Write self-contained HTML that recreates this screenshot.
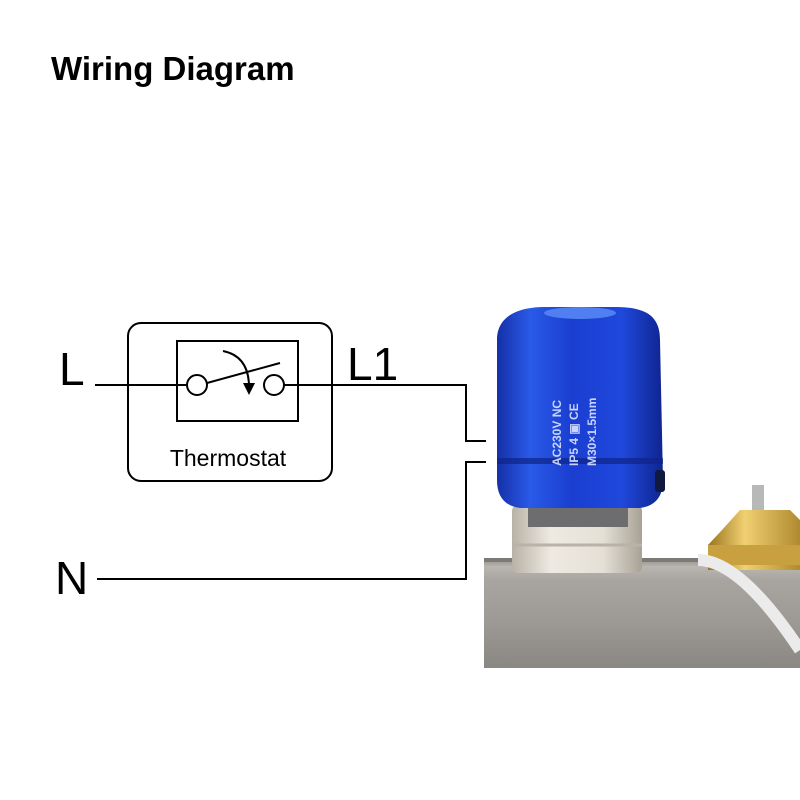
<!DOCTYPE html>
<html><head><meta charset="utf-8"><style>
html,body{margin:0;padding:0;background:#fff;width:800px;height:800px;overflow:hidden}
</style></head><body>
<svg width="800" height="800" viewBox="0 0 800 800" xmlns="http://www.w3.org/2000/svg">
<defs>
<linearGradient id="pipe" x1="0" y1="0" x2="0" y2="1">
<stop offset="0" stop-color="#8d8a86"/><stop offset="0.08" stop-color="#b9b6b2"/><stop offset="0.2" stop-color="#a8a5a1"/><stop offset="0.6" stop-color="#9c9995"/><stop offset="1" stop-color="#8a8783"/></linearGradient>
<linearGradient id="blue" x1="0" y1="0" x2="1" y2="0">
<stop offset="0" stop-color="#1530a8"/><stop offset="0.2" stop-color="#2a5ae8"/><stop offset="0.45" stop-color="#1a3ed0"/><stop offset="0.75" stop-color="#1f48dc"/><stop offset="1" stop-color="#0f2590"/></linearGradient>
<linearGradient id="nut" x1="0" y1="0" x2="1" y2="0">
<stop offset="0" stop-color="#b8b2a6"/><stop offset="0.3" stop-color="#eeeae2"/><stop offset="0.7" stop-color="#e4e0d6"/><stop offset="1" stop-color="#a8a296"/></linearGradient>
<linearGradient id="brass" x1="0" y1="0" x2="1" y2="0">
<stop offset="0" stop-color="#9a7420"/><stop offset="0.4" stop-color="#f0d070"/><stop offset="1" stop-color="#b08a30"/></linearGradient>
</defs>
<text x="51" y="80" font-family="Liberation Sans, sans-serif" font-weight="bold" font-size="33">Wiring Diagram</text>
<g font-family="Liberation Sans, sans-serif" font-size="46">
<text x="59" y="385">L</text><text x="347" y="380">L1</text><text x="55" y="594">N</text></g>
<g stroke="#000" stroke-width="2" fill="none">
<rect x="128" y="323" width="204" height="158" rx="13"/>
<rect x="177" y="341" width="121" height="80"/>
<polyline points="95,385 187,385"/><polyline points="284,385 466,385 466,441 486,441"/>
<polyline points="97,579 466,579 466,462 486,462"/>
<circle cx="197" cy="385" r="10" fill="#fff"/><circle cx="274" cy="385" r="10" fill="#fff"/>
<line x1="207" y1="383" x2="280" y2="363"/>
<path d="M223,351 Q248,356 249,385"/>
</g>
<polygon points="243,383 255,383 249,395" fill="#000"/>
<text x="228" y="466" text-anchor="middle" font-family="Liberation Sans, sans-serif" font-size="23">Thermostat</text>
<!-- pipe -->
<rect x="484" y="558" width="316" height="110" fill="url(#pipe)"/>
<rect x="484" y="558" width="316" height="4" fill="#7d7a76"/>
<!-- brass -->
<rect x="752" y="485" width="12" height="30" fill="#b8b8b8"/>
<path d="M740,510 L790,510 L800,520 L800,570 L708,570 L708,545 L722,530 Z" fill="url(#brass)"/>
<rect x="708" y="545" width="92" height="20" fill="#c9a040"/>
<path d="M698,560 Q740,560 800,650" stroke="#ebebeb" stroke-width="12" fill="none"/>
<!-- nut -->
<rect x="512" y="505" width="130" height="68" rx="6" fill="url(#nut)"/>
<rect x="528" y="505" width="100" height="22" fill="#6d6d70"/>
<line x1="512" y1="545" x2="642" y2="545" stroke="#b8b2a8" stroke-width="3"/>
<!-- actuator -->
<path d="M497,340 C497,315 520,307 545,307 L615,307 C645,307 660,315 660,340 L663,480 Q663,505 640,508 L520,508 Q497,505 497,480 Z" fill="url(#blue)"/>
<ellipse cx="580" cy="313" rx="36" ry="6" fill="#4f7ff0"/>
<rect x="497" y="458" width="166" height="6" fill="#0e2488" opacity="0.7"/>
<rect x="655" y="470" width="10" height="22" rx="3" fill="#101a40"/>
<g font-family="Liberation Sans, sans-serif" font-size="12" fill="#c8d4ff" font-weight="bold">
<text transform="translate(561,466) rotate(-90)">AC230V  NC</text>
<text transform="translate(578,466) rotate(-90)">IP5 4 ▣ CE</text>
<text transform="translate(596,466) rotate(-90)">M30×1.5mm</text>
</g>
</svg>
</body></html>
